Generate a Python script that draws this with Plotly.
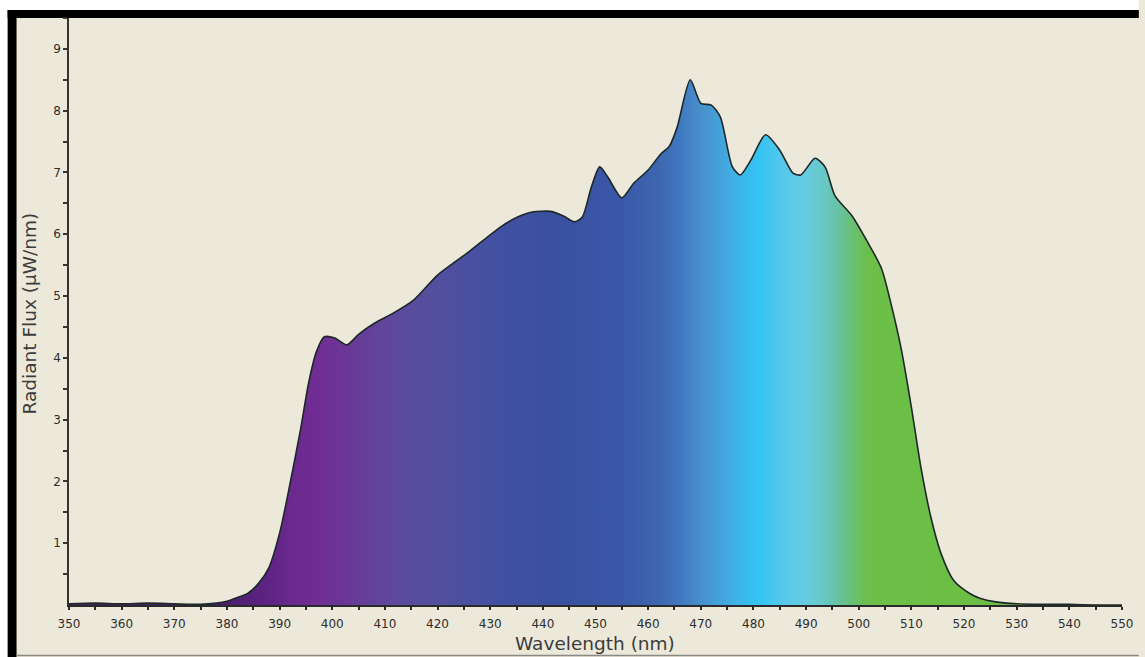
import plotly.graph_objects as go

# Spectral power distribution of the light source
wavelength_nm = [350, 355, 360, 365, 370, 375, 378, 380, 382, 384, 386, 388, 390, 392, 394,
                 395.5, 397, 398.5, 400.5, 402.8, 405, 408, 411.5, 415.5, 420, 426, 432, 435,
                 438, 441.5, 444, 446, 447.5, 449.2, 450.8, 452.3, 455, 457.3, 460, 462.4, 464,
                 465.5, 468, 470, 472, 473.7, 476, 477.5, 479.5, 482.3, 485, 487.5, 489, 491.7,
                 493.6, 495.5, 498.7, 501.5, 504.3, 506.2, 508.1, 510, 511.8, 513.7, 515.6, 518,
                 521, 523, 526, 530, 535, 540, 545, 550]
radiant_flux = [0.02, 0.03, 0.02, 0.03, 0.02, 0.01, 0.03, 0.06, 0.12, 0.19, 0.35, 0.61, 1.16, 1.97, 2.85,
                3.59, 4.10, 4.34, 4.32, 4.21, 4.38, 4.56, 4.72, 4.94, 5.34, 5.72, 6.12, 6.27,
                6.36, 6.37, 6.29, 6.20, 6.28, 6.76, 7.09, 6.93, 6.59, 6.83, 7.04, 7.30, 7.42,
                7.73, 8.50, 8.12, 8.09, 7.90, 7.09, 6.96, 7.20, 7.61, 7.36, 6.99, 6.96, 7.23,
                7.09, 6.62, 6.30, 5.90, 5.45, 4.85, 4.13, 3.20, 2.23, 1.42, 0.84, 0.40,
                0.19, 0.11, 0.05, 0.02, 0.01, 0.01, 0.0, 0.0]

# Spectrum colours under the curve (wavelength in nm -> colour)
spectrum_nm = [350, 380, 388, 393, 398, 405, 412, 420, 430, 442, 455, 462, 466, 470, 474,
               477, 481, 486, 490, 493, 496, 499, 502, 520, 550]
spectrum_rgb = ["#4a1e6e", "#4a1e6e", "#5e2484", "#6c2a90", "#702e96", "#673c98", "#5e4a9c",
                "#524f9e", "#4450a2", "#3a50a0", "#3b58a8", "#3d66b0", "#4078c0", "#4890cc",
                "#44a4dc", "#3cb4e8", "#32c4f2", "#58c8ea", "#66cce0", "#68c8c8", "#66c2a4",
                "#6abf70", "#6cbf48", "#6cbf44", "#6cbf44"]

X_MIN, X_MAX = 350, 550
Y_MIN, Y_MAX = 0, 9.5

W, H = 1145, 657
M_L, M_R, M_T, M_B = 69, 12, 18, 52
PLOT_W = W - M_L - M_R
PLOT_H = H - M_T - M_B

BG = "#ece9da"
INK = "#2e2e2e"
FONT = "DejaVu Sans"


def px_x(p):
    return (p - M_L) / PLOT_W


def px_y(p):
    return (H - M_B - p) / PLOT_H


span = X_MAX - X_MIN
colorscale = [[(w - X_MIN) / span, c] for w, c in zip(spectrum_nm, spectrum_rgb)]

fig = go.Figure()
fig.add_trace(go.Scatter(
    x=wavelength_nm, y=radiant_flux,
    mode="lines",
    line=dict(color="#1e2828", width=1.6, shape="spline", smoothing=0.7),
    fill="tozeroy",
    fillgradient=dict(type="horizontal", colorscale=colorscale),
    hoverinfo="x+y",
    showlegend=False,
))

# Frame: white outer margin, heavy black top and left border, thin bottom rule
shapes = [
    dict(type="rect", xref="paper", yref="paper", x0=px_x(-5), x1=px_x(W + 5),
         y0=px_y(10), y1=px_y(-5), fillcolor="white", line_width=0, layer="below"),
    dict(type="rect", xref="paper", yref="paper", x0=px_x(-5), x1=px_x(7),
         y0=px_y(H + 5), y1=px_y(-5), fillcolor="white", line_width=0, layer="below"),
    dict(type="rect", xref="paper", yref="paper", x0=px_x(7), x1=px_x(W + 5),
         y0=px_y(18), y1=px_y(10), fillcolor="black", line_width=0, layer="below"),
    dict(type="rect", xref="paper", yref="paper", x0=px_x(7), x1=px_x(16),
         y0=px_y(H + 5), y1=px_y(10), fillcolor="black", line_width=0, layer="below"),
    dict(type="line", xref="paper", yref="paper", x0=px_x(16), x1=px_x(W + 5),
         y0=px_y(655.5), y1=px_y(655.5), line=dict(color="#8a8a84", width=1.5), layer="below"),
]

annotations = [
    dict(text="Wavelength (nm)", xref="paper", yref="paper", x=px_x(600), y=px_y(643),
         xanchor="center", yanchor="middle", showarrow=False,
         font=dict(family=FONT, size=18.5, color="#3c3c3c")),
    dict(text="Radiant Flux (\u00b5W/nm)", xref="paper", yref="paper", x=px_x(29), y=px_y(313),
         xanchor="center", yanchor="middle", textangle=-90, showarrow=False,
         font=dict(family=FONT, size=18.5, color="#3c3c3c")),
]

fig.update_layout(
    width=W, height=H,
    margin=dict(l=M_L, r=M_R, t=M_T, b=M_B, pad=0),
    paper_bgcolor=BG, plot_bgcolor=BG,
    shapes=shapes, annotations=annotations,
    font=dict(family=FONT, color=INK),
)

fig.update_xaxes(
    range=[X_MIN, X_MAX], showgrid=False, zeroline=False,
    showline=True, linecolor="#2a2a2a", linewidth=2,
    tickmode="array", tickvals=list(range(350, 551, 10)),
    ticktext=[str(v) for v in range(350, 551, 10)],
    ticks="outside", ticklen=3, tickwidth=1.5, tickcolor="#2a2a2a",
    ticklabelstandoff=4,
    tickfont=dict(family=FONT, size=12, color=INK),
    minor=dict(tickmode="array", tickvals=list(range(355, 551, 10)),
               ticks="outside", ticklen=3, tickwidth=1.5, tickcolor="#2a2a2a"),
)
fig.update_yaxes(
    range=[Y_MIN, Y_MAX], showgrid=False, zeroline=False,
    showline=True, linecolor="#3a3232", linewidth=1.5,
    tickmode="array", tickvals=list(range(1, 10)),
    ticktext=[str(v) for v in range(1, 10)],
    ticks="outside", ticklen=4, tickwidth=1.5, tickcolor="#3a3232",
    tickfont=dict(family=FONT, size=12, color=INK),
    minor=dict(tickmode="array", tickvals=[v + 0.5 for v in range(0, 10)],
               ticks="outside", ticklen=4, tickwidth=1.5, tickcolor="#3a3232"),
)

fig.write_html("out.html")
